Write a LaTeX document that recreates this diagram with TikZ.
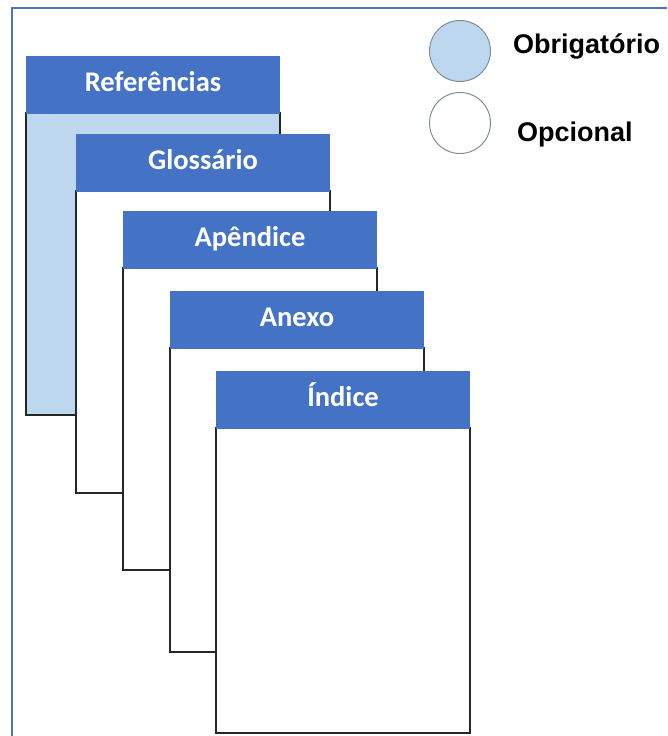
\documentclass[tikz,border=0pt]{standalone}
\usepackage{fontspec}
\newfontfamily\headfont{Carlito}
\newfontfamily\legendfont{Liberation Sans}
\usetikzlibrary{positioning}
\definecolor{headblue}{HTML}{4472C4}
\definecolor{fillblue}{HTML}{BDD7EE}
\definecolor{frameblue}{HTML}{4F76AC}
\definecolor{ringgray}{HTML}{7F8C9C}
\tikzset{
  pagebody/.style={draw=black!85, line width=1.4pt, fill=white, minimum width=254pt, inner sep=0pt, outer sep=0pt, anchor=north west},
  pagehead/.style={fill=headblue, text=white, font=\headfont\bfseries\fontsize{28.5}{31}\selectfont, text height=17pt, text depth=3pt, minimum width=254pt, minimum height=58pt, inner sep=0pt, outer sep=0pt, anchor=south west, yshift=-0.7pt},
  legendring/.style={circle, draw=ringgray, line width=1pt, minimum size=61pt, inner sep=0pt},
  legendtext/.style={font=\legendfont\bfseries\fontsize{27}{30}\selectfont, inner sep=0pt}
}
\begin{document}
\begin{tikzpicture}[x=1pt, y=-1pt]
\useasboundingbox (0,0) rectangle (667,736);
\draw[frameblue, line width=2pt] (11.5,736) -- (11.5,7.5) -- (667,7.5);
% pages, back to front
\node[pagebody, fill=fillblue, minimum height=302pt] (refbody) at (26,113) {};
\node[pagehead] (ref) at (refbody.north west) {Referências};
\node[pagebody, minimum height=302pt] (glosbody) at (76,191) {};
\node[pagehead] (glos) at (glosbody.north west) {Glossário};
\node[pagebody, minimum height=302pt] (apenbody) at (123,268) {};
\node[pagehead] (apen) at (apenbody.north west) {Apêndice};
\node[pagebody, minimum height=304pt] (anexbody) at (170,348) {};
\node[pagehead] (anex) at (anexbody.north west) {Anexo};
\node[pagebody, minimum height=305pt] (indbody) at (216,428) {};
\node[pagehead] (ind) at (indbody.north west) {Índice};
% legend
\node[legendring, fill=fillblue] (obrig) at (460,51) {};
\node[legendtext, right=22pt of obrig.east, anchor=base west, yshift=-2pt] (obrigtext) {Obrigatório};
\node[legendring, fill=white] (opc) at (460,123) {};
\node[legendtext, right=26pt of opc.east, anchor=base west, yshift=-18pt] (opctext) {Opcional};
\end{tikzpicture}
\end{document}
